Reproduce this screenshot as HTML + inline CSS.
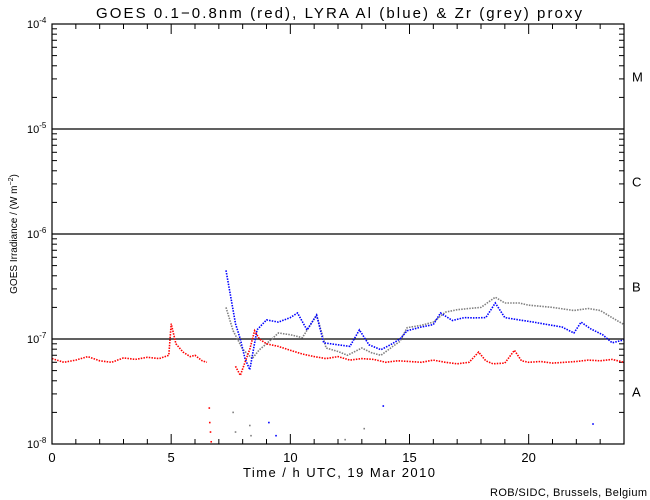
<!DOCTYPE html>
<html><head><meta charset="utf-8"><style>
body{margin:0;background:#fff}
svg{display:block;font-family:"Liberation Sans",sans-serif}
</style></head><body>
<svg id="chart" width="650" height="500" viewBox="0 0 650 500">
<rect width="650" height="500" fill="#fff"/>
<text x="339" y="18" font-size="15" text-anchor="middle" textLength="486" lengthAdjust="spacing">GOES 0.1−0.8nm (red), LYRA Al (blue) &amp; Zr (grey) proxy</text>
<g id="grid"></g><g id="ticks"></g><g id="series"></g>
<rect x="52" y="24" width="572" height="420" fill="none" stroke="#000" stroke-width="1.2"/>
<text x="339" y="477" font-size="13" text-anchor="middle" textLength="192" lengthAdjust="spacing">Time / h UTC, 19 Mar 2010</text>
<text transform="translate(17,234) rotate(-90)" font-size="10" text-anchor="middle">GOES Irradiance / (W m<tspan dy="-4" font-size="7">−2</tspan><tspan dy="4">)</tspan></text>
<text x="647" y="496" font-size="11" text-anchor="end" textLength="157" lengthAdjust="spacing">ROB/SIDC, Brussels, Belgium</text>
</svg>
<script>
const xTicks=[0,5,10,15,20];
const yDecades=[-4,-5,-6,-7,-8];
const classLabels=["M","C","B","A"];
const redT=[0,0.5,1,1.5,2,2.5,3,3.5,4,4.5,4.9,5.0,5.2,5.5,5.8,6.0,6.3,6.5];
const redV=[6.5e-8,6.0e-8,6.3e-8,6.8e-8,6.2e-8,6.0e-8,6.6e-8,6.4e-8,6.7e-8,6.5e-8,7.0e-8,1.4e-7,9e-8,7.5e-8,6.8e-8,7.0e-8,6.2e-8,6.0e-8];
const red2T=[7.7,7.9,8.1,8.3,8.5,8.7,9,9.5,10,10.5,11,11.5,12,12.5,13,13.5,14,14.5,15,15.5,16,16.5,17,17.5,17.9,18.2,18.5,19,19.4,19.7,20,20.5,21,21.5,22,22.5,23,23.5,24];
const red2V=[5.5e-8,4.5e-8,6.0e-8,8.0e-8,1.2e-7,1.0e-7,9.0e-8,8.5e-8,7.8e-8,7.2e-8,6.8e-8,6.5e-8,6.8e-8,6.3e-8,6.5e-8,6.4e-8,6.0e-8,6.2e-8,6.1e-8,6.0e-8,6.3e-8,6.0e-8,5.8e-8,6.0e-8,7.5e-8,6.2e-8,5.8e-8,5.9e-8,7.8e-8,6.2e-8,6.0e-8,6.1e-8,5.9e-8,6.0e-8,6.1e-8,6.3e-8,6.2e-8,6.4e-8,6.0e-8];
const blueT=[7.3,7.5,7.7,7.9,8.1,8.3,8.6,9,9.5,10,10.3,10.7,11.1,11.4,12,12.5,12.9,13.3,13.8,14.2,14.6,14.9,15.5,16.0,16.3,16.8,17.3,17.7,18.2,18.6,19,19.6,20.2,20.8,21.4,21.9,22.2,22.6,23.1,23.5,24];
const blueV=[4.5e-7,2.5e-7,1.4e-7,1.0e-7,6.5e-8,5.1e-8,1.22e-7,1.52e-7,1.45e-7,1.6e-7,1.77e-7,1.22e-7,1.69e-7,9.2e-8,8.8e-8,8.5e-8,1.22e-7,8.8e-8,7.9e-8,8.8e-8,1.0e-7,1.2e-7,1.3e-7,1.37e-7,1.77e-7,1.5e-7,1.6e-7,1.59e-7,1.6e-7,2.2e-7,1.6e-7,1.52e-7,1.45e-7,1.37e-7,1.3e-7,1.14e-7,1.45e-7,1.25e-7,1.1e-7,9.2e-8,9.8e-8];
const greyT=[7.3,7.6,8.0,8.4,8.7,9.0,9.5,10,10.5,11.1,11.5,12,12.4,13,13.4,13.8,14.3,14.6,14.9,15.5,16,16.5,17,17.5,18,18.6,19,19.6,20,21,21.9,22.5,23,23.5,24];
const greyV=[2.0e-7,1.2e-7,8e-8,6.5e-8,7.9e-8,9.0e-8,1.14e-7,1.1e-7,1.03e-7,1.69e-7,8.2e-8,7.6e-8,7.0e-8,8.2e-8,7.4e-8,7.0e-8,8.5e-8,9.5e-8,1.28e-7,1.35e-7,1.45e-7,1.8e-7,1.9e-7,1.95e-7,2.0e-7,2.5e-7,2.2e-7,2.2e-7,2.1e-7,2.0e-7,1.87e-7,1.95e-7,1.87e-7,1.6e-7,1.37e-7];
const outT=[6.6,6.62,6.65,6.68,7.6,7.7,8.3,8.35,9.1,9.4,12.3,13.1,13.9,22.7];
const outV=[2.2e-8,1.6e-8,1.3e-8,1.05e-8,2.0e-8,1.3e-8,1.5e-8,1.2e-8,1.6e-8,1.2e-8,1.1e-8,1.4e-8,2.3e-8,1.55e-8];
const outC=["red","red","red","red","grey","grey","grey","grey","blue","blue","grey","grey","blue","blue"];
const NS="http://www.w3.org/2000/svg";
const X=t=>52+t*572/24;
const Y=v=>24-(Math.log10(v)+4)*105;
function mk(tag,attrs,parent){const e=document.createElementNS(NS,tag);for(const k in attrs)e.setAttribute(k,attrs[k]);parent.appendChild(e);return e;}
const grid=document.getElementById('grid'),ticks=document.getElementById('ticks'),ser=document.getElementById('series');
[-5,-6,-7].forEach(d=>{const l=mk('line',{x1:52,x2:624,y1:Y(Math.pow(10,d)),y2:Y(Math.pow(10,d)),stroke:'#000','stroke-width':1.2},grid);

});
for(let h=0;h<=24;h++){const big=h%5===0;const x=X(h);
mk('line',{x1:x,x2:x,y1:444,y2:444-(big?10:5),stroke:'#000'},ticks);
mk('line',{x1:x,x2:x,y1:24,y2:24+(big?10:5),stroke:'#000'},ticks);}
xTicks.forEach(h=>{const t=mk('text',{x:X(h),y:462,'font-size':13,'text-anchor':'middle'},ticks);t.textContent=h;

});
yDecades.forEach(d=>{const y=Y(Math.pow(10,d));
mk('line',{x1:52,x2:62,y1:y,y2:y,stroke:'#000'},ticks);mk('line',{x1:614,x2:624,y1:y,y2:y,stroke:'#000'},ticks);
if(d>-8)for(let m=2;m<10;m++){const yy=Y(m*Math.pow(10,d-1));mk('line',{x1:52,x2:57,y1:yy,y2:yy,stroke:'#000'},ticks);mk('line',{x1:619,x2:624,y1:yy,y2:yy,stroke:'#000'},ticks);}
const t=mk('text',{x:27,y:y+4,'font-size':11},ticks);t.innerHTML='10<tspan dy="-5" font-size="8">'+d+'</tspan>';

});
classLabels.forEach((c,i)=>{const t=mk('text',{x:632,y:Y(Math.pow(10,-4-i-0.5))+5,'font-size':13},ticks);t.textContent=c;

});
function series(T,V,color,name){const pts=T.map((t,i)=>X(t).toFixed(1)+','+Y(V[i]).toFixed(1)).join(' ');
const p=mk('polyline',{points:pts,fill:'none',stroke:color,'stroke-width':1.6,'stroke-dasharray':'1.5 1.2'},ser);

}
series(greyT,greyV,'#808080','zr-proxy-series');
series(blueT,blueV,'#0000ff','al-proxy-series');
series(redT,redV,'#ff0000','goes-series-part1');
series(red2T,red2V,'#ff0000','goes-series-part2');
outT.forEach((t,i)=>{const r=mk('rect',{x:X(t)-0.8,y:Y(outV[i])-0.8,width:1.6,height:1.6,fill:outC[i]==='red'?'#f00':outC[i]==='blue'?'#00f':'#808080'},ser);

});
</script>
</body></html>
